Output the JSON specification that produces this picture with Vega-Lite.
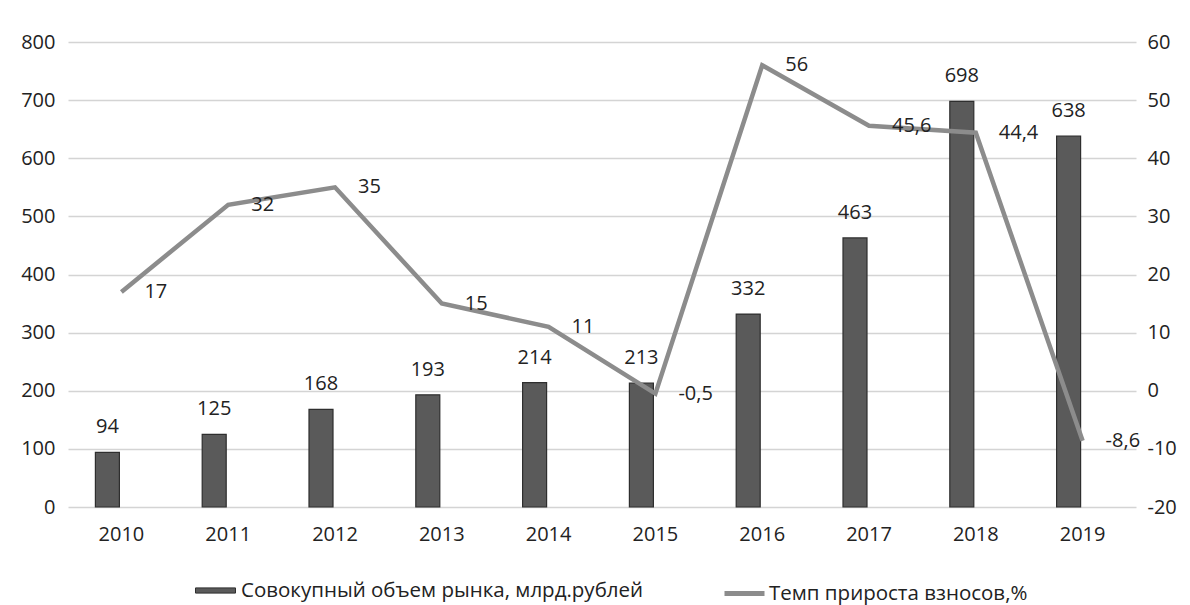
{
  "$schema": "https://vega.github.io/schema/vega-lite/v6.json",
  "width": 1068,
  "height": 465,
  "autosize": {"type": "none"},
  "padding": {"left": 68, "top": 42, "right": 54, "bottom": 98},
  "background": "white",
  "config": {
    "locale": {"number": {"decimal": ",", "thousands": " ", "grouping": [3], "currency": ["", ""], "minus": "-"}},
    "font": "Open Sans",
    "view": {"stroke": null},
    "axis": {"labelFont": "Open Sans", "labelFontSize": 20, "labelColor": "#222", "domain": false, "ticks": false, "title": null},
    "legend": {"labelFont": "Open Sans", "labelFontSize": 20.5, "labelColor": "#222", "labelLimit": 0}
  },
  "data": {"values": [
    {"year": "2010", "volume": 94, "growth": 17},
    {"year": "2011", "volume": 125, "growth": 32},
    {"year": "2012", "volume": 168, "growth": 35},
    {"year": "2013", "volume": 193, "growth": 15},
    {"year": "2014", "volume": 214, "growth": 11},
    {"year": "2015", "volume": 213, "growth": -0.5},
    {"year": "2016", "volume": 332, "growth": 56},
    {"year": "2017", "volume": 463, "growth": 45.6},
    {"year": "2018", "volume": 698, "growth": 44.4},
    {"year": "2019", "volume": 638, "growth": -8.6}
  ]},
  "encoding": {
    "x": {"field": "year", "type": "ordinal", "scale": {"paddingInner": 0, "paddingOuter": 0},
      "axis": {"labelAngle": 0, "labelPadding": 17, "grid": false}}
  },
  "layer": [
    {
      "encoding": {
        "y": {"field": "volume", "type": "quantitative", "scale": {"domain": [0, 800]},
          "axis": {"orient": "left", "values": [0,100,200,300,400,500,600,700,800], "grid": true, "gridColor": "#d4d4d4", "gridWidth": 1.5, "labelPadding": 13}}
      },
      "layer": [
        {
          "mark": {"type": "bar", "width": 24, "xOffset": -14, "stroke": "#2e2e2e", "strokeWidth": 1.2},
          "encoding": {
            "color": {"datum": "Совокупный объем рынка, млрд.рублей", "type": "nominal", "scale": {"range": ["#5a5a5a"]},
              "legend": {"orient": "none", "legendX": 127, "legendY": 528, "symbolType": "M-1,-0.13H1V0.13H-1Z", "symbolSize": 1600, "symbolStrokeColor": "#2e2e2e", "symbolStrokeWidth": 1, "labelOffset": 5, "title": null}}
          }
        },
        {
          "mark": {"type": "text", "xOffset": -14, "dy": -15, "baseline": "bottom", "fontSize": 20, "color": "#222"},
          "encoding": {"text": {"field": "volume", "type": "quantitative"}}
        }
      ]
    },
    {
      "encoding": {
        "y": {"field": "growth", "type": "quantitative", "scale": {"domain": [-20, 60]},
          "axis": {"orient": "right", "values": [-20,-10,0,10,20,30,40,50,60], "grid": false, "labelPadding": 11}}
      },
      "layer": [
        {
          "mark": {"type": "line", "strokeWidth": 4.5},
          "encoding": {
            "stroke": {"datum": "Темп прироста взносов,%", "type": "nominal", "scale": {"range": ["#8c8c8c"]},
              "legend": {"orient": "none", "legendX": 654, "legendY": 529, "symbolType": "M-1,0H1", "symbolSize": 1600, "symbolStrokeWidth": 5, "labelOffset": 2, "title": null}}
          }
        },
        {
          "mark": {"type": "text", "align": "left", "baseline": "middle", "dx": 23, "fontSize": 20, "color": "#222"},
          "encoding": {"text": {"field": "growth", "type": "quantitative", "format": ".1~f"}}
        }
      ]
    }
  ],
  "resolve": {"scale": {"y": "independent"}}
}
